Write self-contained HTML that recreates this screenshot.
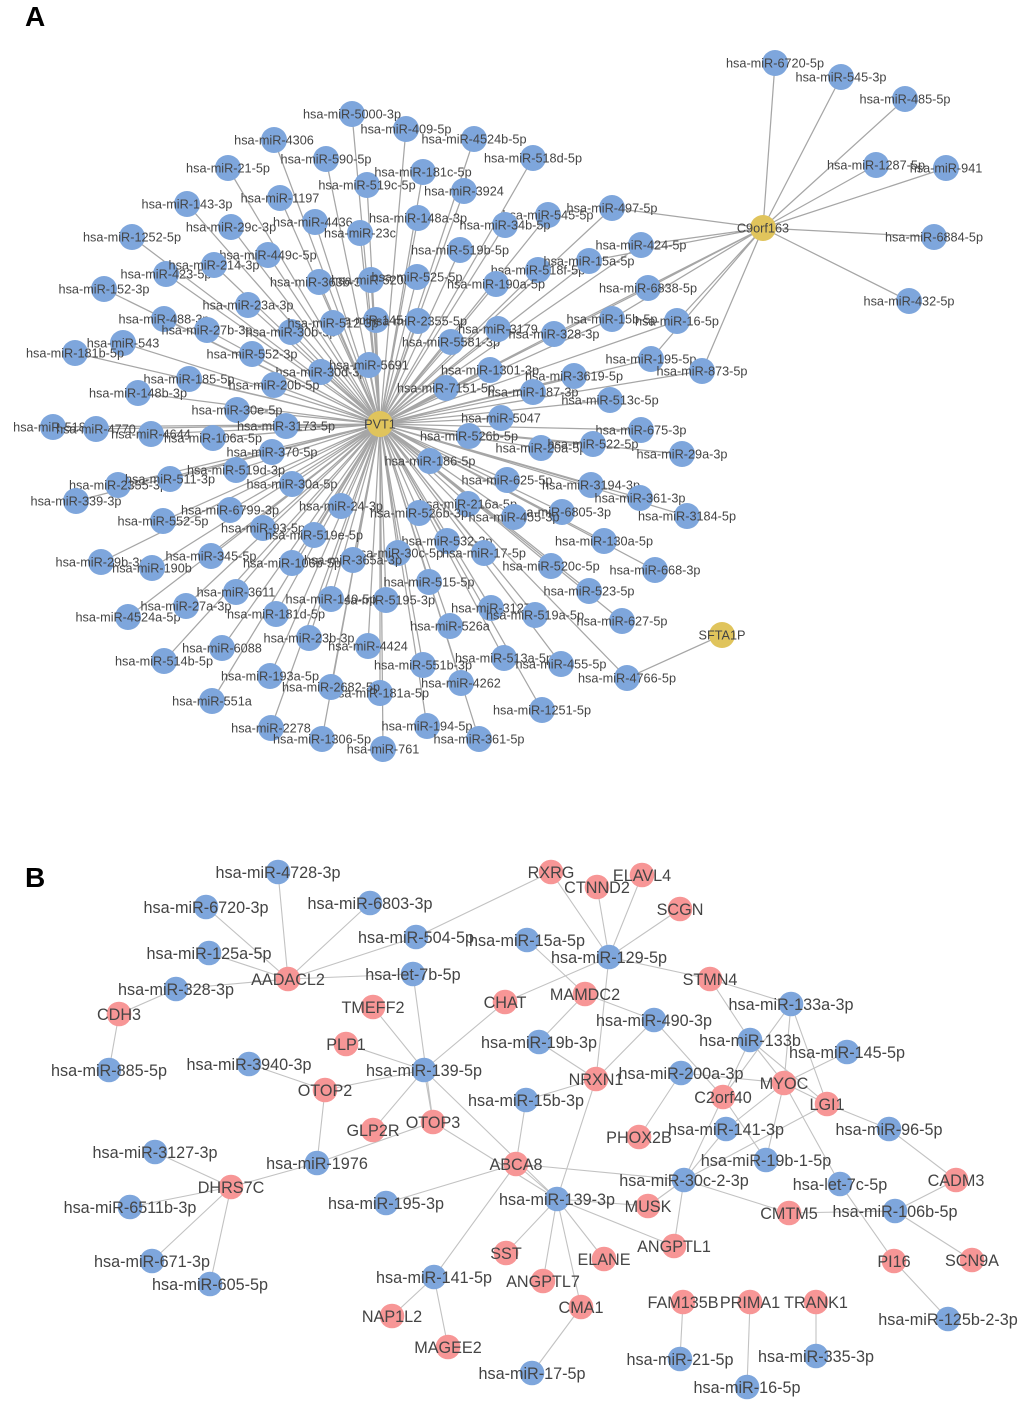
<!DOCTYPE html>
<html lang="en">
<head>
<meta charset="utf-8">
<title>Diagram</title>
<style>
html,body{margin:0;padding:0;background:#fff}
svg{display:block}
text{font-family:"Liberation Sans",Arial,sans-serif;text-anchor:middle;fill:#444}
.a text{font-size:12.7px}
.b text{font-size:16.2px}
.a circle{fill:#7ea6dc}
.b circle{fill:#7ea6dc}
.a circle.y{fill:#e0c45c}
.b circle.r{fill:#f79696}
.h{font-size:28px;font-weight:bold;fill:#000;text-anchor:start}
</style>
</head>
<body>
<svg width="1020" height="1405" viewBox="0 0 1020 1405" xmlns="http://www.w3.org/2000/svg">
<rect width="1020" height="1405" fill="#fff"/>
<text class="h" x="25" y="26">A</text>
<text class="h" x="25" y="887">B</text>

<path fill="none" stroke="#a6a6a6" stroke-width="1.25" d="M380 424L352 114M380 424L274 140M380 424L326 159M380 424L228 168M380 424L367 185M380 424L280 198M380 424L187 204M380 424L231 227M380 424L315 222M380 424L360 233M380 424L132 237M380 424L268 255M380 424L214 265M380 424L166 274M380 424L319 282M380 424L104 289M380 424L371 280M380 424L417 277M380 424L248 305M380 424L164 319M380 424L207 330M380 424L291 332M380 424L333 323M380 424L376 320M380 424L418 321M380 424L451 342M380 424L123 343M380 424L75 353M380 424L252 354M380 424L321 372M380 424L189 379M380 424L274 385M380 424L369 365M380 424L138 393M380 424L237 410M380 424L286 426M380 424L53 427M380 424L96 429M380 424L151 434M380 424L213 438M380 424L272 452M380 424L236 470M380 424L170 479M380 424L118 485M380 424L76 501M380 424L292 484M380 424L341 506M380 424L230 510M380 424L163 521M380 424L263 528M380 424L314 535M380 424L211 556M380 424L101 562M380 424L152 568M380 424L292 563M380 424L353 560M380 424L236 592M380 424L186 606M380 424L331 599M380 424L276 614M380 424L128 617M380 424L222 648M380 424L309 638M380 424L164 661M380 424L368 646M380 424L270 676M380 424L331 687M380 424L212 701M380 424L271 728M380 424L322 739M380 424L430 461M380 424L419 513M380 424L468 504M380 424L447 541M380 424L398 553M380 424L429 582M380 424L386 600M380 424L501 418M380 424L469 436M380 424L641 430M380 424L541 448M380 424L593 444M380 424L682 454M380 424L507 480M380 424L591 485M380 424L640 498M380 424L687 516M380 424L562 512M380 424L514 517M380 424L604 541M380 424L484 553M380 424L655 570M380 424L551 566M380 424L589 591M380 424L622 621M380 424L491 608M380 424L535 615M380 424L450 626M380 424L504 658M380 424L561 664M380 424L423 665M380 424L627 678M380 424L461 683M380 424L380 693M380 424L542 710M380 424L427 726M380 424L479 739M380 424L383 749M380 424L406 129M380 424L474 139M380 424L533 158M380 424L423 172M380 424L464 191M380 424L418 218M380 424L505 225M380 424L548 215M380 424L612 208M380 424L460 250M380 424L641 245M380 424L589 261M380 424L538 270M380 424L496 284M380 424L648 288M380 424L612 319M380 424L677 321M380 424L498 329M380 424L554 334M380 424L651 359M380 424L702 371M380 424L490 370M380 424L574 376M380 424L533 392M380 424L446 388M380 424L610 400M763 228L775 63M763 228L841 77M763 228L905 99M763 228L876 165M763 228L946 168M763 228L934 237M763 228L909 301M763 228L612 208M763 228L641 245M763 228L589 261M763 228L648 288M763 228L554 334M763 228L612 319M763 228L677 321M763 228L651 359M763 228L702 371M722 635L627 678"/>

<g class="a">
<circle cx="164" cy="319" r="13"/><text x="164" y="323.5">hsa-miR-488-3p</text>
<circle cx="315" cy="222" r="13"/><text x="315" y="226.5">hsa-miR-4436-</text>
<circle cx="291" cy="332" r="13"/><text x="291" y="336.5">hsa-miR-30b-5p</text>
<circle cx="321" cy="372" r="13"/><text x="321" y="376.5">hsa-miR-30d-3p</text>
<circle cx="447" cy="541" r="13"/><text x="447" y="545.5">hsa-miR-532-3p</text>
<circle cx="468" cy="504" r="13"/><text x="468" y="508.5">hsa-miR-216a-5p</text>
<circle cx="562" cy="512" r="13"/><text x="562" y="516.5">hsa-miR-6805-3p</text>
<circle cx="591" cy="485" r="13"/><text x="591" y="489.5">hsa-miR-3194-3p</text>
<circle cx="548" cy="215" r="13"/><text x="548" y="219.5">hsa-miR-545-5p</text>
<circle cx="398" cy="553" r="13"/><text x="398" y="557.5">hsa-miR-30c-5p</text>
<circle cx="538" cy="270" r="13"/><text x="538" y="274.5">hsa-miR-518f-5p</text>
<circle cx="53" cy="427" r="13"/><text x="53" y="431.5">hsa-miR-518e</text>
<circle cx="96" cy="429" r="13"/><text x="96" y="433.5">hsa-miR-4770</text>
<circle cx="151" cy="434" r="13"/><text x="151" y="438.5">hsa-miR-4644</text>
<circle cx="213" cy="438" r="13"/><text x="213" y="442.5">hsa-miR-106a-5p</text>
<circle cx="352" cy="114" r="13"/><text x="352" y="118.5">hsa-miR-5000-3p</text>
<circle cx="274" cy="140" r="13"/><text x="274" y="144.5">hsa-miR-4306</text>
<circle cx="326" cy="159" r="13"/><text x="326" y="163.5">hsa-miR-590-5p</text>
<circle cx="228" cy="168" r="13"/><text x="228" y="172.5">hsa-miR-21-5p</text>
<circle cx="367" cy="185" r="13"/><text x="367" y="189.5">hsa-miR-519c-5p</text>
<circle cx="280" cy="198" r="13"/><text x="280" y="202.5">hsa-miR-1197</text>
<circle cx="187" cy="204" r="13"/><text x="187" y="208.5">hsa-miR-143-3p</text>
<circle cx="231" cy="227" r="13"/><text x="231" y="231.5">hsa-miR-29c-3p</text>
<circle cx="360" cy="233" r="13"/><text x="360" y="237.5">hsa-miR-23c</text>
<circle cx="132" cy="237" r="13"/><text x="132" y="241.5">hsa-miR-1252-5p</text>
<circle cx="268" cy="255" r="13"/><text x="268" y="259.5">hsa-miR-449c-5p</text>
<circle cx="166" cy="274" r="13"/><text x="166" y="278.5">hsa-miR-423-5p</text>
<circle cx="214" cy="265" r="13"/><text x="214" y="269.5">hsa-miR-214-3p</text>
<circle cx="319" cy="282" r="13"/><text x="319" y="286.5">hsa-miR-363b-3p</text>
<circle cx="104" cy="289" r="13"/><text x="104" y="293.5">hsa-miR-152-3p</text>
<circle cx="371" cy="280" r="13"/><text x="371" y="284.5">hsa-miR-520a</text>
<circle cx="417" cy="277" r="13"/><text x="417" y="281.5">hsa-miR-525-5p</text>
<circle cx="248" cy="305" r="13"/><text x="248" y="309.5">hsa-miR-23a-3p</text>
<circle cx="207" cy="330" r="13"/><text x="207" y="334.5">hsa-miR-27b-3p</text>
<circle cx="376" cy="320" r="13"/><text x="376" y="324.5">hsa-miR-145-5p</text>
<circle cx="333" cy="323" r="13"/><text x="333" y="327.5">hsa-miR-512-3p</text>
<circle cx="418" cy="321" r="13"/><text x="418" y="325.5">hsa-miR-2355-5p</text>
<circle cx="451" cy="342" r="13"/><text x="451" y="346.5">hsa-miR-5581-3p</text>
<circle cx="123" cy="343" r="13"/><text x="123" y="347.5">hsa-miR-543</text>
<circle cx="75" cy="353" r="13"/><text x="75" y="357.5">hsa-miR-181b-5p</text>
<circle cx="252" cy="354" r="13"/><text x="252" y="358.5">hsa-miR-552-3p</text>
<circle cx="189" cy="379" r="13"/><text x="189" y="383.5">hsa-miR-185-5p</text>
<circle cx="274" cy="385" r="13"/><text x="274" y="389.5">hsa-miR-20b-5p</text>
<circle cx="369" cy="365" r="13"/><text x="369" y="369.5">hsa-miR-5691</text>
<circle cx="138" cy="393" r="13"/><text x="138" y="397.5">hsa-miR-148b-3p</text>
<circle cx="237" cy="410" r="13"/><text x="237" y="414.5">hsa-miR-30e-5p</text>
<circle cx="286" cy="426" r="13"/><text x="286" y="430.5">hsa-miR-3173-5p</text>
<circle cx="272" cy="452" r="13"/><text x="272" y="456.5">hsa-miR-370-5p</text>
<circle cx="118" cy="485" r="13"/><text x="118" y="489.5">hsa-miR-2355-3p</text>
<circle cx="170" cy="479" r="13"/><text x="170" y="483.5">hsa-miR-511-3p</text>
<circle cx="236" cy="470" r="13"/><text x="236" y="474.5">hsa-miR-519d-3p</text>
<circle cx="76" cy="501" r="13"/><text x="76" y="505.5">hsa-miR-339-3p</text>
<circle cx="292" cy="484" r="13"/><text x="292" y="488.5">hsa-miR-30a-5p</text>
<circle cx="341" cy="506" r="13"/><text x="341" y="510.5">hsa-miR-24-3p</text>
<circle cx="230" cy="510" r="13"/><text x="230" y="514.5">hsa-miR-6799-3p</text>
<circle cx="163" cy="521" r="13"/><text x="163" y="525.5">hsa-miR-552-5p</text>
<circle cx="263" cy="528" r="13"/><text x="263" y="532.5">hsa-miR-93-5p</text>
<circle cx="314" cy="535" r="13"/><text x="314" y="539.5">hsa-miR-519e-5p</text>
<circle cx="211" cy="556" r="13"/><text x="211" y="560.5">hsa-miR-345-5p</text>
<circle cx="101" cy="562" r="13"/><text x="101" y="566.5">hsa-miR-29b-3p</text>
<circle cx="152" cy="568" r="13"/><text x="152" y="572.5">hsa-miR-190b</text>
<circle cx="292" cy="563" r="13"/><text x="292" y="567.5">hsa-miR-106b-5p</text>
<circle cx="353" cy="560" r="13"/><text x="353" y="564.5">hsa-miR-365a-3p</text>
<circle cx="236" cy="592" r="13"/><text x="236" y="596.5">hsa-miR-3611</text>
<circle cx="128" cy="617" r="13"/><text x="128" y="621.5">hsa-miR-4524a-5p</text>
<circle cx="186" cy="606" r="13"/><text x="186" y="610.5">hsa-miR-27a-3p</text>
<circle cx="386" cy="600" r="13"/><text x="386" y="604.5">hsa-miR-5195-3p</text>
<circle cx="331" cy="599" r="13"/><text x="331" y="603.5">hsa-miR-140-5p</text>
<circle cx="276" cy="614" r="13"/><text x="276" y="618.5">hsa-miR-181d-5p</text>
<circle cx="222" cy="648" r="13"/><text x="222" y="652.5">hsa-miR-6088</text>
<circle cx="368" cy="646" r="13"/><text x="368" y="650.5">hsa-miR-4424</text>
<circle cx="309" cy="638" r="13"/><text x="309" y="642.5">hsa-miR-23b-3p</text>
<circle cx="164" cy="661" r="13"/><text x="164" y="665.5">hsa-miR-514b-5p</text>
<circle cx="270" cy="676" r="13"/><text x="270" y="680.5">hsa-miR-193a-5p</text>
<circle cx="380" cy="693" r="13"/><text x="380" y="697.5">hsa-miR-181a-5p</text>
<circle cx="331" cy="687" r="13"/><text x="331" y="691.5">hsa-miR-2682-5p</text>
<circle cx="212" cy="701" r="13"/><text x="212" y="705.5">hsa-miR-551a</text>
<circle cx="271" cy="728" r="13"/><text x="271" y="732.5">hsa-miR-2278</text>
<circle cx="383" cy="749" r="13"/><text x="383" y="753.5">hsa-miR-761</text>
<circle cx="322" cy="739" r="13"/><text x="322" y="743.5">hsa-miR-1306-5p</text>
<circle cx="430" cy="461" r="13"/><text x="430" y="465.5">hsa-miR-186-5p</text>
<circle cx="514" cy="517" r="13"/><text x="514" y="521.5">hsa-miR-455-3p</text>
<circle cx="419" cy="513" r="13"/><text x="419" y="517.5">hsa-miR-526b-3p</text>
<circle cx="429" cy="582" r="13"/><text x="429" y="586.5">hsa-miR-515-5p</text>
<circle cx="501" cy="418" r="13"/><text x="501" y="422.5">hsa-miR-5047</text>
<circle cx="469" cy="436" r="13"/><text x="469" y="440.5">hsa-miR-526b-5p</text>
<circle cx="641" cy="430" r="13"/><text x="641" y="434.5">hsa-miR-675-3p</text>
<circle cx="541" cy="448" r="13"/><text x="541" y="452.5">hsa-miR-20a-5p</text>
<circle cx="593" cy="444" r="13"/><text x="593" y="448.5">hsa-miR-522-5p</text>
<circle cx="682" cy="454" r="13"/><text x="682" y="458.5">hsa-miR-29a-3p</text>
<circle cx="507" cy="480" r="13"/><text x="507" y="484.5">hsa-miR-625-5p</text>
<circle cx="640" cy="498" r="13"/><text x="640" y="502.5">hsa-miR-361-3p</text>
<circle cx="687" cy="516" r="13"/><text x="687" y="520.5">hsa-miR-3184-5p</text>
<circle cx="604" cy="541" r="13"/><text x="604" y="545.5">hsa-miR-130a-5p</text>
<circle cx="484" cy="553" r="13"/><text x="484" y="557.5">hsa-miR-17-5p</text>
<circle cx="655" cy="570" r="13"/><text x="655" y="574.5">hsa-miR-668-3p</text>
<circle cx="551" cy="566" r="13"/><text x="551" y="570.5">hsa-miR-520c-5p</text>
<circle cx="589" cy="591" r="13"/><text x="589" y="595.5">hsa-miR-523-5p</text>
<circle cx="622" cy="621" r="13"/><text x="622" y="625.5">hsa-miR-627-5p</text>
<circle cx="491" cy="608" r="13"/><text x="491" y="612.5">hsa-miR-3127</text>
<circle cx="535" cy="615" r="13"/><text x="535" y="619.5">hsa-miR-519a-5p</text>
<circle cx="450" cy="626" r="13"/><text x="450" y="630.5">hsa-miR-526a</text>
<circle cx="504" cy="658" r="13"/><text x="504" y="662.5">hsa-miR-513a-5p</text>
<circle cx="561" cy="664" r="13"/><text x="561" y="668.5">hsa-miR-455-5p</text>
<circle cx="423" cy="665" r="13"/><text x="423" y="669.5">hsa-miR-551b-3p</text>
<circle cx="627" cy="678" r="13"/><text x="627" y="682.5">hsa-miR-4766-5p</text>
<circle cx="461" cy="683" r="13"/><text x="461" y="687.5">hsa-miR-4262</text>
<circle cx="542" cy="710" r="13"/><text x="542" y="714.5">hsa-miR-1251-5p</text>
<circle cx="427" cy="726" r="13"/><text x="427" y="730.5">hsa-miR-194-5p</text>
<circle cx="479" cy="739" r="13"/><text x="479" y="743.5">hsa-miR-361-5p</text>
<circle cx="406" cy="129" r="13"/><text x="406" y="133.5">hsa-miR-409-5p</text>
<circle cx="474" cy="139" r="13"/><text x="474" y="143.5">hsa-miR-4524b-5p</text>
<circle cx="533" cy="158" r="13"/><text x="533" y="162.5">hsa-miR-518d-5p</text>
<circle cx="423" cy="172" r="13"/><text x="423" y="176.5">hsa-miR-181c-5p</text>
<circle cx="464" cy="191" r="13"/><text x="464" y="195.5">hsa-miR-3924</text>
<circle cx="418" cy="218" r="13"/><text x="418" y="222.5">hsa-miR-148a-3p</text>
<circle cx="505" cy="225" r="13"/><text x="505" y="229.5">hsa-miR-34b-5p</text>
<circle cx="612" cy="208" r="13"/><text x="612" y="212.5">hsa-miR-497-5p</text>
<circle cx="460" cy="250" r="13"/><text x="460" y="254.5">hsa-miR-519b-5p</text>
<circle cx="641" cy="245" r="13"/><text x="641" y="249.5">hsa-miR-424-5p</text>
<circle cx="589" cy="261" r="13"/><text x="589" y="265.5">hsa-miR-15a-5p</text>
<circle cx="496" cy="284" r="13"/><text x="496" y="288.5">hsa-miR-190a-5p</text>
<circle cx="648" cy="288" r="13"/><text x="648" y="292.5">hsa-miR-6838-5p</text>
<circle cx="612" cy="319" r="13"/><text x="612" y="323.5">hsa-miR-15b-5p</text>
<circle cx="677" cy="321" r="13"/><text x="677" y="325.5">hsa-miR-16-5p</text>
<circle cx="498" cy="329" r="13"/><text x="498" y="333.5">hsa-miR-3179</text>
<circle cx="554" cy="334" r="13"/><text x="554" y="338.5">hsa-miR-328-3p</text>
<circle cx="651" cy="359" r="13"/><text x="651" y="363.5">hsa-miR-195-5p</text>
<circle cx="702" cy="371" r="13"/><text x="702" y="375.5">hsa-miR-873-5p</text>
<circle cx="490" cy="370" r="13"/><text x="490" y="374.5">hsa-miR-1301-3p</text>
<circle cx="574" cy="376" r="13"/><text x="574" y="380.5">hsa-miR-3619-5p</text>
<circle cx="446" cy="388" r="13"/><text x="446" y="392.5">hsa-miR-7151-5p</text>
<circle cx="533" cy="392" r="13"/><text x="533" y="396.5">hsa-miR-187-3p</text>
<circle cx="610" cy="400" r="13"/><text x="610" y="404.5">hsa-miR-513c-5p</text>
<circle cx="775" cy="63" r="13"/><text x="775" y="67.5">hsa-miR-6720-5p</text>
<circle cx="841" cy="77" r="13"/><text x="841" y="81.5">hsa-miR-545-3p</text>
<circle cx="905" cy="99" r="13"/><text x="905" y="103.5">hsa-miR-485-5p</text>
<circle cx="876" cy="165" r="13"/><text x="876" y="169.5">hsa-miR-1287-5p</text>
<circle cx="946" cy="168" r="13"/><text x="946" y="172.5">hsa-miR-941</text>
<circle cx="934" cy="237" r="13"/><text x="934" y="241.5">hsa-miR-6884-5p</text>
<circle cx="909" cy="301" r="13"/><text x="909" y="305.5">hsa-miR-432-5p</text>
<circle class="y" cx="380" cy="424" r="13"/><text x="380" y="428.5">PVT1</text>
<circle class="y" cx="763" cy="228" r="13"/><text x="763" y="232.5">C9orf163</text>
<circle class="y" cx="722" cy="635" r="13"/><text x="722" y="639.5">SFTA1P</text>
</g>

<path fill="none" stroke="#c2c2c2" stroke-width="1.1" d="M288 979L278 872M288 979L206 907M288 979L209 953M288 979L176 989M288 979L370 903M288 979L416 937M288 979L413 974M416 937L551 872M176 989L119 1014M119 1014L109 1070M413 974L433 1122M424 1070L373 1007M424 1070L346 1044M424 1070L325 1090M424 1070L373 1130M424 1070L433 1122M424 1070L505 1002M424 1070L557 1199M249 1064L325 1090M325 1090L317 1163M317 1163L231 1187M317 1163L433 1122M231 1187L155 1152M231 1187L130 1207M231 1187L152 1261M231 1187L210 1284M433 1122L557 1199M516 1164L386 1203M516 1164L434 1277M516 1164L526 1100M516 1164L684 1180M516 1164L557 1199M434 1277L392 1316M434 1277L448 1347M596 1079L557 1199M557 1199L648 1206M557 1199L674 1246M557 1199L506 1253M557 1199L543 1281M557 1199L581 1307M557 1199L604 1259M581 1307L532 1373M609 957L551 872M609 957L597 887M609 957L642 875M609 957L680 909M609 957L505 1002M609 957L710 979M609 957L596 1079M527 940L585 994M585 994L539 1042M585 994L654 1020M539 1042L596 1079M654 1020L596 1079M654 1020L723 1097M526 1100L596 1079M710 979L791 1004M710 979L750 1040M791 1004L723 1097M750 1040L723 1097M791 1004L784 1083M791 1004L827 1104M750 1040L784 1083M750 1040L827 1104M723 1097L684 1180M726 1129L684 1180M681 1073L784 1083M681 1073L639 1137M784 1083L847 1052M827 1104L684 1180M784 1083L726 1129M784 1083L766 1160M784 1083L840 1184M784 1083L827 1104M723 1097L766 1160M827 1104L889 1129M889 1129L956 1180M956 1180L895 1211M895 1211L972 1260M895 1211L789 1213M684 1180L789 1213M840 1184L894 1261M894 1261L948 1319M684 1180L648 1206M684 1180L674 1246M683 1302L680 1359M750 1302L747 1387M816 1302L816 1356"/>

<g class="b">
<circle cx="278" cy="872" r="12.3"/><text x="278" y="878">hsa-miR-4728-3p</text>
<circle cx="206" cy="907" r="12.3"/><text x="206" y="913">hsa-miR-6720-3p</text>
<circle cx="370" cy="903" r="12.3"/><text x="370" y="909">hsa-miR-6803-3p</text>
<circle cx="527" cy="940" r="12.3"/><text x="527" y="946">hsa-miR-15a-5p</text>
<circle cx="416" cy="937" r="12.3"/><text x="416" y="943">hsa-miR-504-5p</text>
<circle cx="209" cy="953" r="12.3"/><text x="209" y="959">hsa-miR-125a-5p</text>
<circle class="r" cx="288" cy="979" r="12.3"/><text x="288" y="985">AADACL2</text>
<circle cx="413" cy="974" r="12.3"/><text x="413" y="980">hsa-let-7b-5p</text>
<circle cx="176" cy="989" r="12.3"/><text x="176" y="995">hsa-miR-328-3p</text>
<circle class="r" cx="119" cy="1014" r="12.3"/><text x="119" y="1020">CDH3</text>
<circle class="r" cx="373" cy="1007" r="12.3"/><text x="373" y="1013">TMEFF2</text>
<circle class="r" cx="505" cy="1002" r="12.3"/><text x="505" y="1008">CHAT</text>
<circle class="r" cx="346" cy="1044" r="12.3"/><text x="346" y="1050">PLP1</text>
<circle cx="249" cy="1064" r="12.3"/><text x="249" y="1070">hsa-miR-3940-3p</text>
<circle cx="109" cy="1070" r="12.3"/><text x="109" y="1076">hsa-miR-885-5p</text>
<circle cx="424" cy="1070" r="12.3"/><text x="424" y="1076">hsa-miR-139-5p</text>
<circle class="r" cx="325" cy="1090" r="12.3"/><text x="325" y="1096">OTOP2</text>
<circle class="r" cx="373" cy="1130" r="12.3"/><text x="373" y="1136">GLP2R</text>
<circle class="r" cx="433" cy="1122" r="12.3"/><text x="433" y="1128">OTOP3</text>
<circle class="r" cx="551" cy="872" r="12.3"/><text x="551" y="878">RXRG</text>
<circle class="r" cx="597" cy="887" r="12.3"/><text x="597" y="893">CTNND2</text>
<circle class="r" cx="642" cy="875" r="12.3"/><text x="642" y="881">ELAVL4</text>
<circle class="r" cx="680" cy="909" r="12.3"/><text x="680" y="915">SCGN</text>
<circle cx="609" cy="957" r="12.3"/><text x="609" y="963">hsa-miR-129-5p</text>
<circle class="r" cx="710" cy="979" r="12.3"/><text x="710" y="985">STMN4</text>
<circle class="r" cx="585" cy="994" r="12.3"/><text x="585" y="1000">MAMDC2</text>
<circle cx="791" cy="1004" r="12.3"/><text x="791" y="1010">hsa-miR-133a-3p</text>
<circle cx="654" cy="1020" r="12.3"/><text x="654" y="1026">hsa-miR-490-3p</text>
<circle cx="539" cy="1042" r="12.3"/><text x="539" y="1048">hsa-miR-19b-3p</text>
<circle cx="750" cy="1040" r="12.3"/><text x="750" y="1046">hsa-miR-133b</text>
<circle cx="847" cy="1052" r="12.3"/><text x="847" y="1058">hsa-miR-145-5p</text>
<circle class="r" cx="596" cy="1079" r="12.3"/><text x="596" y="1085">NRXN1</text>
<circle cx="681" cy="1073" r="12.3"/><text x="681" y="1079">hsa-miR-200a-3p</text>
<circle class="r" cx="784" cy="1083" r="12.3"/><text x="784" y="1089">MYOC</text>
<circle class="r" cx="723" cy="1097" r="12.3"/><text x="723" y="1103">C2orf40</text>
<circle class="r" cx="827" cy="1104" r="12.3"/><text x="827" y="1110">LGI1</text>
<circle cx="526" cy="1100" r="12.3"/><text x="526" y="1106">hsa-miR-15b-3p</text>
<circle class="r" cx="639" cy="1137" r="12.3"/><text x="639" y="1143">PHOX2B</text>
<circle cx="726" cy="1129" r="12.3"/><text x="726" y="1135">hsa-miR-141-3p</text>
<circle cx="889" cy="1129" r="12.3"/><text x="889" y="1135">hsa-miR-96-5p</text>
<circle cx="766" cy="1160" r="12.3"/><text x="766" y="1166">hsa-miR-19b-1-5p</text>
<circle class="r" cx="516" cy="1164" r="12.3"/><text x="516" y="1170">ABCA8</text>
<circle cx="684" cy="1180" r="12.3"/><text x="684" y="1186">hsa-miR-30c-2-3p</text>
<circle cx="840" cy="1184" r="12.3"/><text x="840" y="1190">hsa-let-7c-5p</text>
<circle class="r" cx="956" cy="1180" r="12.3"/><text x="956" y="1186">CADM3</text>
<circle cx="557" cy="1199" r="12.3"/><text x="557" y="1205">hsa-miR-139-3p</text>
<circle class="r" cx="648" cy="1206" r="12.3"/><text x="648" y="1212">MUSK</text>
<circle class="r" cx="789" cy="1213" r="12.3"/><text x="789" y="1219">CMTM5</text>
<circle cx="895" cy="1211" r="12.3"/><text x="895" y="1217">hsa-miR-106b-5p</text>
<circle class="r" cx="674" cy="1246" r="12.3"/><text x="674" y="1252">ANGPTL1</text>
<circle class="r" cx="506" cy="1253" r="12.3"/><text x="506" y="1259">SST</text>
<circle class="r" cx="604" cy="1259" r="12.3"/><text x="604" y="1265">ELANE</text>
<circle class="r" cx="972" cy="1260" r="12.3"/><text x="972" y="1266">SCN9A</text>
<circle class="r" cx="894" cy="1261" r="12.3"/><text x="894" y="1267">PI16</text>
<circle class="r" cx="543" cy="1281" r="12.3"/><text x="543" y="1287">ANGPTL7</text>
<circle class="r" cx="581" cy="1307" r="12.3"/><text x="581" y="1313">CMA1</text>
<circle class="r" cx="683" cy="1302" r="12.3"/><text x="683" y="1308">FAM135B</text>
<circle class="r" cx="750" cy="1302" r="12.3"/><text x="750" y="1308">PRIMA1</text>
<circle class="r" cx="816" cy="1302" r="12.3"/><text x="816" y="1308">TRANK1</text>
<circle cx="948" cy="1319" r="12.3"/><text x="948" y="1325">hsa-miR-125b-2-3p</text>
<circle cx="680" cy="1359" r="12.3"/><text x="680" y="1365">hsa-miR-21-5p</text>
<circle cx="816" cy="1356" r="12.3"/><text x="816" y="1362">hsa-miR-335-3p</text>
<circle cx="532" cy="1373" r="12.3"/><text x="532" y="1379">hsa-miR-17-5p</text>
<circle cx="747" cy="1387" r="12.3"/><text x="747" y="1393">hsa-miR-16-5p</text>
<circle cx="155" cy="1152" r="12.3"/><text x="155" y="1158">hsa-miR-3127-3p</text>
<circle cx="317" cy="1163" r="12.3"/><text x="317" y="1169">hsa-miR-1976</text>
<circle class="r" cx="231" cy="1187" r="12.3"/><text x="231" y="1193">DHRS7C</text>
<circle cx="130" cy="1207" r="12.3"/><text x="130" y="1213">hsa-miR-6511b-3p</text>
<circle cx="386" cy="1203" r="12.3"/><text x="386" y="1209">hsa-miR-195-3p</text>
<circle cx="152" cy="1261" r="12.3"/><text x="152" y="1267">hsa-miR-671-3p</text>
<circle cx="210" cy="1284" r="12.3"/><text x="210" y="1290">hsa-miR-605-5p</text>
<circle cx="434" cy="1277" r="12.3"/><text x="434" y="1283">hsa-miR-141-5p</text>
<circle class="r" cx="392" cy="1316" r="12.3"/><text x="392" y="1322">NAP1L2</text>
<circle class="r" cx="448" cy="1347" r="12.3"/><text x="448" y="1353">MAGEE2</text>
</g>
</svg>
</body>
</html>
